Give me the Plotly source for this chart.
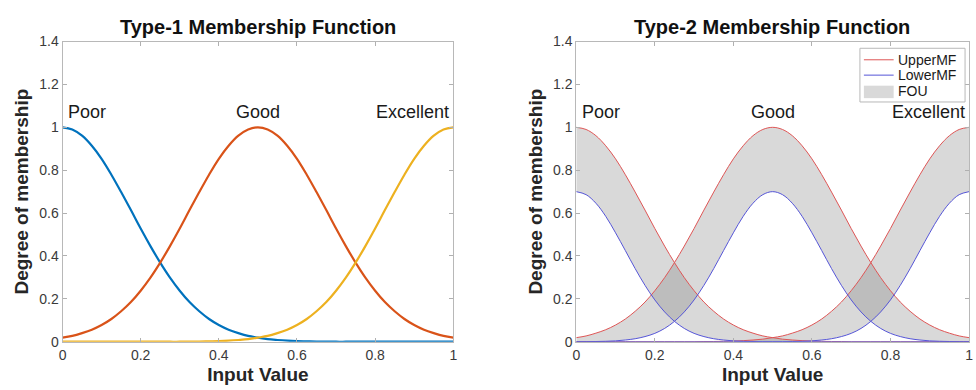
import plotly.graph_objects as go

# sampled input values (step 0.025)
x_vals = [0.000, 0.025, 0.050, 0.075, 0.100, 0.125, 0.150, 0.175, 0.200, 0.225,
          0.250, 0.275, 0.300, 0.325, 0.350, 0.375, 0.400, 0.425, 0.450, 0.475,
          0.500, 0.525, 0.550, 0.575, 0.600, 0.625, 0.650, 0.675, 0.700, 0.725,
          0.750, 0.775, 0.800, 0.825, 0.850, 0.875, 0.900, 0.925, 0.950, 0.975, 1.000]

# Type-1 / upper membership values
poor_upper = [1.000, 0.990, 0.961, 0.914, 0.853, 0.779, 0.698, 0.614, 0.528, 0.446,
              0.369, 0.299, 0.238, 0.185, 0.142, 0.106, 0.078, 0.056, 0.040, 0.027,
              0.019, 0.012, 0.008, 0.005, 0.003, 0.002, 0.001, 0.001, 0.000, 0.000,
              0.000, 0.000, 0.000, 0.000, 0.000, 0.000, 0.000, 0.000, 0.000, 0.000, 0.000]
good_upper = [0.019, 0.027, 0.040, 0.056, 0.078, 0.106, 0.142, 0.185, 0.238, 0.299,
              0.369, 0.446, 0.528, 0.614, 0.698, 0.779, 0.853, 0.914, 0.961, 0.990,
              1.000, 0.990, 0.961, 0.914, 0.853, 0.779, 0.698, 0.614, 0.528, 0.446,
              0.369, 0.299, 0.238, 0.185, 0.142, 0.106, 0.078, 0.056, 0.040, 0.027, 0.019]
exc_upper = [0.000, 0.000, 0.000, 0.000, 0.000, 0.000, 0.000, 0.000, 0.000, 0.000,
             0.000, 0.000, 0.000, 0.001, 0.001, 0.002, 0.003, 0.005, 0.008, 0.012,
             0.019, 0.027, 0.040, 0.056, 0.078, 0.106, 0.142, 0.185, 0.238, 0.299,
             0.369, 0.446, 0.528, 0.614, 0.698, 0.779, 0.853, 0.914, 0.961, 0.990, 1.000]

# Type-2 lower membership values
poor_lower = [0.700, 0.686, 0.646, 0.585, 0.508, 0.425, 0.341, 0.263, 0.195, 0.139,
              0.095, 0.062, 0.039, 0.024, 0.014, 0.008, 0.004, 0.002, 0.001, 0.000,
              0.000, 0.000, 0.000, 0.000, 0.000, 0.000, 0.000, 0.000, 0.000, 0.000,
              0.000, 0.000, 0.000, 0.000, 0.000, 0.000, 0.000, 0.000, 0.000, 0.000, 0.000]
good_lower = [0.000, 0.000, 0.001, 0.002, 0.004, 0.008, 0.014, 0.024, 0.039, 0.062,
              0.095, 0.139, 0.195, 0.263, 0.341, 0.425, 0.508, 0.585, 0.646, 0.686,
              0.700, 0.686, 0.646, 0.585, 0.508, 0.425, 0.341, 0.263, 0.195, 0.139,
              0.095, 0.062, 0.039, 0.024, 0.014, 0.008, 0.004, 0.002, 0.001, 0.000, 0.000]
exc_lower = [0.000, 0.000, 0.000, 0.000, 0.000, 0.000, 0.000, 0.000, 0.000, 0.000,
             0.000, 0.000, 0.000, 0.000, 0.000, 0.000, 0.000, 0.000, 0.000, 0.000,
             0.000, 0.000, 0.001, 0.002, 0.004, 0.008, 0.014, 0.024, 0.039, 0.062,
             0.095, 0.139, 0.195, 0.263, 0.341, 0.425, 0.508, 0.585, 0.646, 0.686, 0.700]

labels = ["Poor", "Good", "Excellent"]
label_x = [0.01, 0.5, 0.995]
label_anchor = ["left", "center", "right"]
legend_labels = ["UpperMF", "LowerMF", "FOU"]
type1_colors = ["#0072BD", "#D95319", "#EDB120"]
upper_color = "rgb(222,85,85)"
lower_color = "rgb(85,85,215)"
fou_color = "rgba(120,120,120,0.28)"
fou_legend_color = "rgb(217,217,217)"

x_ticks = [0, 0.2, 0.4, 0.6, 0.8, 1]
x_ticktext = ["0", "0.2", "0.4", "0.6", "0.8", "1"]
y_ticks = [0, 0.2, 0.4, 0.6, 0.8, 1, 1.2, 1.4]
y_ticktext = ["0", "0.2", "0.4", "0.6", "0.8", "1", "1.2", "1.4"]

uppers = [poor_upper, good_upper, exc_upper]
lowers = [poor_lower, good_lower, exc_lower]

FONT = "Liberation Sans, Arial, sans-serif"
W, H = 976, 390
fig = go.Figure()

# Type-1 curves
for up, col, lab in zip(uppers, type1_colors, labels):
    fig.add_trace(go.Scatter(x=x_vals, y=up, mode="lines", xaxis="x", yaxis="y", name=lab,
                             line=dict(color=col, width=2.2, shape="spline"),
                             showlegend=False, hoverinfo="skip"))

# Type-2 FOU fills
for up, lo in zip(uppers, lowers):
    fig.add_trace(go.Scatter(x=x_vals, y=lo, mode="lines", xaxis="x2", yaxis="y2",
                             line=dict(width=0, shape="spline", color="rgba(0,0,0,0)"),
                             showlegend=False, hoverinfo="skip"))
    fig.add_trace(go.Scatter(x=x_vals, y=up, mode="lines", xaxis="x2", yaxis="y2", name="FOU",
                             fill="tonexty", fillcolor=fou_color,
                             line=dict(width=0, shape="spline", color="rgba(0,0,0,0)"),
                             showlegend=False, hoverinfo="skip"))

# Type-2 lines
for up in uppers:
    fig.add_trace(go.Scatter(x=x_vals, y=up, mode="lines", xaxis="x2", yaxis="y2",
                             line=dict(color=upper_color, width=1, shape="spline"),
                             name="UpperMF", showlegend=False, hoverinfo="skip"))
for lo in lowers:
    fig.add_trace(go.Scatter(x=x_vals, y=lo, mode="lines", xaxis="x2", yaxis="y2",
                             line=dict(color=lower_color, width=1, shape="spline"),
                             name="LowerMF", showlegend=False, hoverinfo="skip"))

axis_font = dict(family=FONT, size=14, color="#3a3a3a")
title_font = dict(family=FONT, size=19, color="#262626")


def xaxis(domain, anchor):
    return dict(domain=domain, anchor=anchor, range=[0, 1], tickvals=x_ticks, ticktext=x_ticktext,
                ticks="inside", ticklen=4, tickcolor="#b0b0b0", showline=True, linecolor="#b8b8b8",
                linewidth=1, mirror="ticks", showgrid=False, zeroline=False, tickfont=axis_font,
                title=dict(text="<b>Input Value</b>", font=title_font, standoff=6))


def yaxis(domain, anchor):
    return dict(domain=domain, anchor=anchor, range=[0, 1.4], tickvals=y_ticks, ticktext=y_ticktext,
                ticks="inside", ticklen=4, tickcolor="#b0b0b0", showline=True, linecolor="#b8b8b8",
                linewidth=1, mirror="ticks", showgrid=False, zeroline=False, tickfont=axis_font,
                title=dict(text="<b>Degree of membership</b>", font=title_font, standoff=5))


def px(xp):
    return xp / W


def py(yp):
    return 1 - yp / H


ydom = [py(348), py(35)]
annotations = []
for xr, yr in [("x", "y"), ("x2", "y2")]:
    for lab, lx, la in zip(labels, label_x, label_anchor):
        annotations.append(dict(x=lx, y=1.015, xref=xr, yref=yr, text=lab, showarrow=False,
                                xanchor=la, yanchor="bottom",
                                font=dict(family=FONT, size=18, color="#1a1a1a")))
annotations.append(dict(x=px(256), y=py(20), xref="paper", yref="paper",
                        text="<b>Type-1 Membership Function</b>", showarrow=False,
                        xanchor="center", yanchor="middle",
                        font=dict(family=FONT, size=20, color="#111111")))
annotations.append(dict(x=px(774), y=py(20), xref="paper", yref="paper",
                        text="<b>Type-2 Membership Function</b>", showarrow=False,
                        xanchor="center", yanchor="middle",
                        font=dict(family=FONT, size=20, color="#111111")))

# legend (drawn in the Type-2 panel)
shapes = [dict(type="rect", xref="paper", yref="paper", x0=px(863), x1=px(969), y0=py(98), y1=py(42),
               line=dict(color="#b8b8b8", width=1), fillcolor="white", layer="above")]
shapes.append(dict(type="line", xref="paper", yref="paper", x0=px(867), x1=px(897), y0=py(54), y1=py(54),
                   line=dict(color=upper_color, width=1), layer="above"))
shapes.append(dict(type="line", xref="paper", yref="paper", x0=px(867), x1=px(897), y0=py(70), y1=py(70),
                   line=dict(color=lower_color, width=1), layer="above"))
shapes.append(dict(type="rect", xref="paper", yref="paper", x0=px(867), x1=px(897), y0=py(94), y1=py(81),
                   line=dict(width=0), fillcolor=fou_legend_color, layer="above"))
for lab, yc in zip(legend_labels, [54, 70, 87]):
    annotations.append(dict(x=px(899), y=py(yc), xref="paper", yref="paper", text=lab,
                            showarrow=False, xanchor="left", yanchor="middle",
                            font=dict(family=FONT, size=14, color="#1a1a1a")))

fig.update_layout(
    width=W, height=H,
    margin=dict(l=0, r=0, t=0, b=0),
    paper_bgcolor="white", plot_bgcolor="white",
    xaxis=xaxis([px(59), px(453)], "y"),
    yaxis=yaxis(ydom, "x"),
    xaxis2=xaxis([px(577), px(973)], "y2"),
    yaxis2=yaxis(ydom, "x2"),
    annotations=annotations,
    shapes=shapes,
    showlegend=False,
)

fig.write_html("out.html")
